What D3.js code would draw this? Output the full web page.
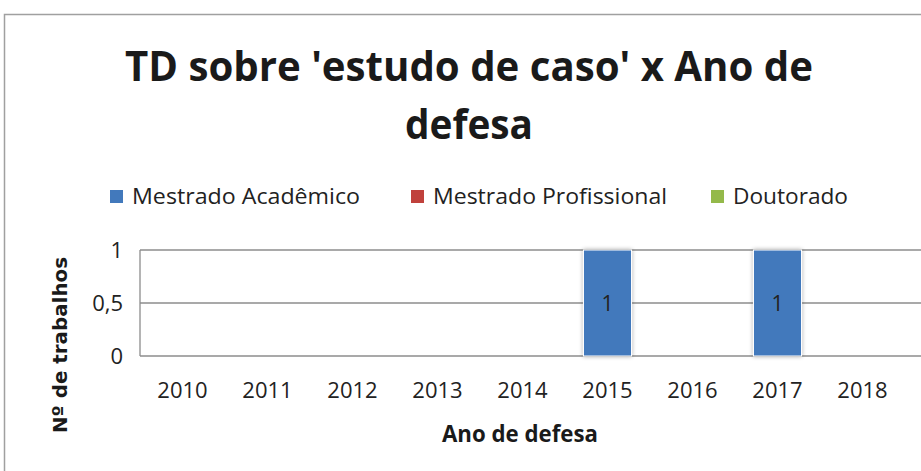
<!DOCTYPE html>
<html>
<head>
<meta charset="utf-8">
<script src="https://cdn.jsdelivr.net/npm/d3@7"></script>
<style>
  html, body { margin: 0; padding: 0; background: #fff; }
  svg { display: block; }
</style>
</head>
<body>
<div id="chart"></div>
<script>
// dados
const years = ["2010", "2011", "2012", "2013", "2014", "2015", "2016", "2017", "2018"];
const series = ["Mestrado Acadêmico", "Mestrado Profissional", "Doutorado"];
const colors = ["#4279bc", "#c0413c", "#94b94a"];
const academico = [0, 0, 0, 0, 0, 1, 0, 1, 0];
const profissional = [0, 0, 0, 0, 0, 0, 0, 0, 0];
const doutorado = [0, 0, 0, 0, 0, 0, 0, 0, 0];
const yTicks = [0, 0.5, 1];

const W = 921, H = 471;
const plot = {left: 140, right: 905, top: 250, bottom: 356};

const svg = d3.select("#chart").append("svg")
  .attr("width", W).attr("height", H);

// borda do gráfico
svg.append("rect")
  .attr("x", 4.5).attr("y", 14.5)
  .attr("width", W).attr("height", H)
  .attr("fill", "#fff").attr("stroke", "#a0a0a0").attr("stroke-width", 1.5);

const defs = svg.append("defs");
const f = defs.append("filter").attr("id", "sh")
  .attr("x", "-30%").attr("y", "-10%").attr("width", "160%").attr("height", "120%");
f.append("feGaussianBlur").attr("in", "SourceAlpha").attr("stdDeviation", 2);
f.append("feOffset").attr("dx", 0).attr("dy", 0).attr("result", "b");
f.append("feComponentTransfer").append("feFuncA").attr("type", "linear").attr("slope", 0.35);
const m = f.append("feMerge");
m.append("feMergeNode");
m.append("feMergeNode").attr("in", "SourceGraphic");

// título (duas linhas)
const title = svg.append("g")
  .attr("font-family", "'Open Sans', sans-serif")
  .attr("font-weight", "bold").attr("fill", "#1a1a1a").attr("font-size", 42)
  .attr("text-anchor", "middle");
title.append("text").attr("x", 469).attr("y", 81)
  .attr("textLength", 688).attr("lengthAdjust", "spacingAndGlyphs")
  .text("TD sobre 'estudo de caso' x Ano de");
title.append("text").attr("x", 469).attr("y", 139)
  .attr("textLength", 128).attr("lengthAdjust", "spacingAndGlyphs")
  .text("defesa");

// escalas
const x = d3.scaleBand().domain(years).range([plot.left, plot.right]).paddingInner(0.435).paddingOuter(0.2175);
const y = d3.scaleLinear().domain([0, 1]).range([plot.bottom, plot.top]);

// legenda
const legendX = [110, 411, 711];
const legendW = [228, 234, 115];
const leg = svg.append("g").attr("font-family", "'Open Sans', sans-serif").attr("font-size", 21).attr("fill", "#222");
series.forEach((s, i) => {
  leg.append("rect").attr("x", legendX[i]).attr("y", 190).attr("width", 13).attr("height", 13).attr("fill", colors[i]);
  leg.append("text").attr("x", legendX[i] + 22).attr("y", 204)
    .attr("textLength", legendW[i]).attr("lengthAdjust", "spacingAndGlyphs").text(s);
});

// grade
svg.append("g").selectAll("line").data(yTicks).join("line")
  .attr("x1", plot.left).attr("x2", W)
  .attr("y1", d => y(d)).attr("y2", d => y(d))
  .attr("stroke", "#8c8c8c").attr("stroke-width", 1.3);
svg.append("line").attr("x1", plot.left).attr("x2", plot.left)
  .attr("y1", plot.top).attr("y2", plot.bottom).attr("stroke", "#8c8c8c").attr("stroke-width", 1.3);

// eixo y
const yAxis = svg.append("g").attr("transform", `translate(${plot.left - 14},0)`)
  .call(d3.axisLeft(y).tickValues(yTicks).tickSize(0).tickFormat(d => String(d).replace(".", ",")));
yAxis.select(".domain").remove();
yAxis.selectAll("text").attr("font-family", "'Open Sans', sans-serif").attr("font-size", 22).attr("fill", "#222").attr("dy", "0.35em");

// eixo x
const xAxis = svg.append("g").attr("transform", `translate(0,${plot.bottom + 31})`)
  .call(d3.axisBottom(x).tickSize(0));
xAxis.select(".domain").remove();
xAxis.selectAll("text").attr("font-family", "'Open Sans', sans-serif")
  .attr("font-size", 22).attr("fill", "#222").attr("dy", "0.35em");

// barras empilhadas
const table = years.map((yr, i) => ({year: yr, "Mestrado Acadêmico": academico[i], "Mestrado Profissional": profissional[i], "Doutorado": doutorado[i]}));
const stacked = d3.stack().keys(series)(table);
const bars = svg.append("g");
stacked.forEach((layer, li) => {
  bars.selectAll(null).data(layer.filter(d => d[1] - d[0] > 0)).join("rect")
    .attr("x", d => x(d.data.year))
    .attr("width", x.bandwidth())
    .attr("y", d => y(d[1]))
    .attr("height", d => y(d[0]) - y(d[1]))
    .attr("fill", colors[li])
    .attr("stroke", "#fff").attr("stroke-width", 1)
    .attr("filter", "url(#sh)");
  bars.selectAll(null).data(layer.filter(d => d[1] - d[0] > 0)).join("text")
    .attr("x", d => x(d.data.year) + x.bandwidth() / 2)
    .attr("y", d => (y(d[0]) + y(d[1])) / 2 + 8)
    .attr("text-anchor", "middle")
    .attr("font-family", "'Open Sans', sans-serif").attr("font-size", 21).attr("fill", "#222")
    .text(d => d[1] - d[0]);
});

// títulos dos eixos
svg.append("text")
  .attr("transform", "translate(67,345) rotate(-90)")
  .attr("text-anchor", "middle")
  .attr("font-family", "'DejaVu Sans', sans-serif").attr("font-weight", "bold")
  .attr("font-size", 20).attr("fill", "#1a1a1a")
  .attr("textLength", 176).attr("lengthAdjust", "spacingAndGlyphs")
  .text("Nº de trabalhos");
svg.append("text")
  .attr("x", 520).attr("y", 442).attr("text-anchor", "middle")
  .attr("font-family", "'Open Sans', sans-serif").attr("font-weight", "bold")
  .attr("font-size", 23).attr("fill", "#1a1a1a")
  .attr("textLength", 156).attr("lengthAdjust", "spacingAndGlyphs")
  .text("Ano de defesa");
</script>
</body>
</html>
